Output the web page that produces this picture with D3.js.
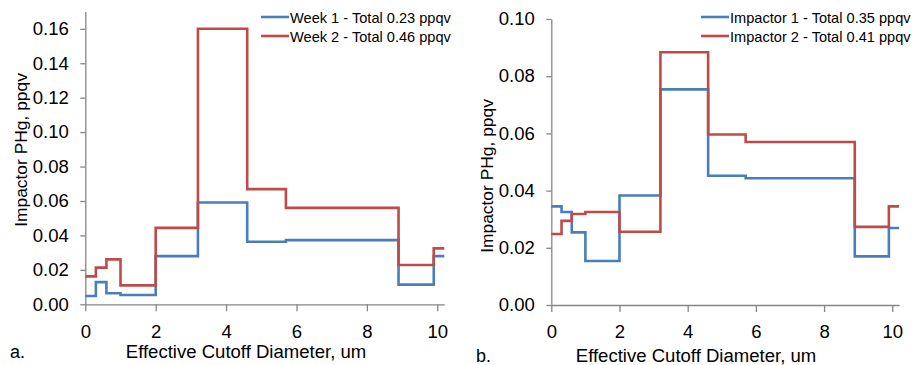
<!DOCTYPE html>
<html>
<head>
<meta charset="utf-8">
<script src="https://cdn.jsdelivr.net/npm/d3@7"></script>
<style>
  body { margin: 0; background: #fff; }
  svg { font-family: "Liberation Sans", Arial, sans-serif; }
</style>
</head>
<body>
<div id="chart"></div>
<script>
// stage edges (um) shared by both panels; the last edge closes the final step
const edges = [0, 0.3, 0.6, 1.0, 2.0, 3.2, 4.6, 5.7, 8.9, 9.9, 10.2];
const xTicks = [0, 2, 4, 6, 8, 10];

// panel a
const week1 = [0.0048, 0.0129, 0.0064, 0.0054, 0.028, 0.0591, 0.0363, 0.0373, 0.0114, 0.028];
const week2 = [0.0162, 0.0213, 0.0261, 0.011, 0.0444, 0.160, 0.0669, 0.056, 0.0228, 0.0325];
const legendA = ["Week 1 - Total 0.23 ppqv", "Week 2 - Total 0.46 ppqv"];
const yTicksA = [0, 0.02, 0.04, 0.06, 0.08, 0.10, 0.12, 0.14, 0.16];

// panel b
const impactor1 = [0.0345, 0.0325, 0.0254, 0.0154, 0.0383, 0.0754, 0.0452, 0.0443, 0.017, 0.0269];
const impactor2 = [0.0248, 0.0294, 0.0318, 0.0325, 0.0256, 0.0884, 0.0596, 0.057, 0.0273, 0.0345];
const legendB = ["Impactor 1 - Total 0.35 ppqv", "Impactor 2 - Total 0.41 ppqv"];
const yTicksB = [0, 0.02, 0.04, 0.06, 0.08, 0.10];

const colors = ["#4a7ebb", "#be4b48"];
const axisColor = "#868686";

const svg = d3.select("#chart")
    .append("svg")
    .attr("width", 916)
    .attr("height", 365);

// the original picture is a touch wider than tall, so horizontal text gets stretched a bit
function widen(sel) {
    sel.each(function () {
        const w = this.getComputedTextLength();
        d3.select(this).attr("textLength", w * 1.03).attr("lengthAdjust", "spacingAndGlyphs");
    });
}

function drawPanel(cfg) {
    const x = d3.scaleLinear().domain([0, 10.2]).range([cfg.left, cfg.right]);
    const y = d3.scaleLinear().domain([0, cfg.yMax]).range([cfg.bottom, cfg.top]);
    const g = svg.append("g");

    // y axis
    const yAxis = g.append("g")
        .attr("transform", `translate(${cfg.left},0)`)
        .call(d3.axisLeft(y).tickValues(cfg.yTicks).tickFormat(d3.format(".2f"))
            .tickSize(5).tickPadding(11.5).tickSizeOuter(0));
    // x axis
    const xAxis = g.append("g")
        .attr("transform", `translate(0,${cfg.bottom})`)
        .call(d3.axisBottom(x).tickValues(xTicks).tickSize(7).tickPadding(13.5).tickSizeOuter(0));

    [yAxis, xAxis].forEach(a => {
        a.select(".domain").attr("stroke", axisColor).attr("stroke-width", 1.3);
        a.selectAll(".tick line").attr("stroke", axisColor).attr("stroke-width", 1.3);
        a.selectAll(".tick text").attr("fill", "#000").style("font-size", "18px").call(widen);
    });

    const line = d3.line()
        .x(d => x(d[0]))
        .y(d => y(d[1]))
        .curve(d3.curveStepAfter);

    cfg.series.forEach((vals, i) => {
        const pts = vals.map((v, k) => [edges[k], v]);
        pts.push([edges[edges.length - 1], vals[vals.length - 1]]);
        g.append("path")
            .datum(pts)
            .attr("fill", "none")
            .attr("stroke", colors[i])
            .attr("stroke-width", 2.6)
            .attr("d", line);
    });

    // legend
    cfg.legend.forEach((t, i) => {
        const ly = cfg.legendY + i * 19;
        g.append("line")
            .attr("x1", cfg.legendX).attr("x2", cfg.legendX + 28)
            .attr("y1", ly).attr("y2", ly)
            .attr("stroke", colors[i]).attr("stroke-width", 2.6);
        g.append("text")
            .attr("x", cfg.legendX + 29).attr("y", ly + 5.5)
            .style("font-size", "14.6px")
            .text(t);
    });

    // axis titles
    g.append("text")
        .attr("x", cfg.xTitleX).attr("y", cfg.xTitleY)
        .attr("text-anchor", "middle")
        .style("font-size", "18px")
        .text("Effective Cutoff Diameter, um")
        .call(widen);
    g.append("text")
        .attr("transform", `translate(${cfg.yTitleX},${cfg.yTitleY}) rotate(-90)`)
        .attr("text-anchor", "middle")
        .style("font-size", "17.4px")
        .text("Impactor PHg, ppqv");
    g.append("text")
        .attr("x", cfg.tagX).attr("y", cfg.xTitleY)
        .style("font-size", "18px")
        .text(cfg.tag);
}

drawPanel({
    left: 85.3, right: 444.3, top: 11.6, bottom: 304.3, yMax: 0.17,
    yTicks: yTicksA, series: [week1, week2], legend: legendA,
    legendX: 261, legendY: 17,
    xTitleX: 246, xTitleY: 358, yTitleX: 27, yTitleY: 150,
    tag: "a.", tagX: 10
});

drawPanel({
    left: 551.3, right: 899.1, top: 19, bottom: 305, yMax: 0.10,
    yTicks: yTicksB, series: [impactor1, impactor2], legend: legendB,
    legendX: 701, legendY: 17,
    xTitleX: 696, xTitleY: 362, yTitleX: 493, yTitleY: 176,
    tag: "b.", tagX: 476
});
</script>
</body>
</html>
